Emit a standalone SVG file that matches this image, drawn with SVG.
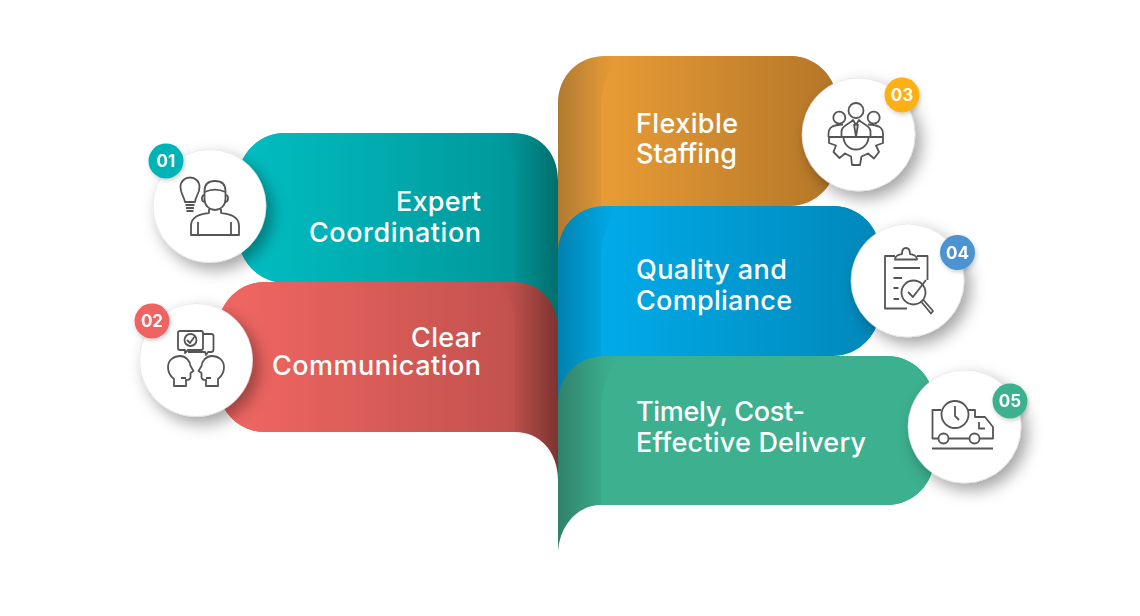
<svg xmlns="http://www.w3.org/2000/svg" width="1140" height="616" viewBox="0 0 1140 616">
<style>
.t{font-family:"Inter","Liberation Sans",sans-serif;font-size:27px;font-weight:500;fill:#fff;font-variant-ligatures:none}
.r{text-anchor:end}
.b{font-family:"Inter","Liberation Sans",sans-serif;font-size:17px;font-weight:700;fill:#fff;text-anchor:middle}
.c{fill:#fff;stroke:#dcdcdc;stroke-width:.6;filter:url(#sh)}
.bd{filter:url(#sb)}
.i{fill:none;stroke:#555;stroke-width:1.8;stroke-linejoin:round;stroke-linecap:butt}
</style>
<defs>
<filter id="sh" x="-40%" y="-40%" width="190%" height="190%"><feDropShadow dx="6" dy="7" stdDeviation="8" flood-color="#000" flood-opacity=".36"/></filter>
<filter id="sb" x="-40%" y="-40%" width="180%" height="180%"><feDropShadow dx="1" dy="2" stdDeviation="2" flood-color="#000" flood-opacity=".2"/></filter>
<linearGradient id="g1" gradientUnits="userSpaceOnUse" x1="240" x2="515" y1="0" y2="0"><stop offset="0" stop-color="#01bec2"/><stop offset="1" stop-color="#00989a"/></linearGradient>
<linearGradient id="g1t" gradientUnits="userSpaceOnUse" x1="240" x2="558" y1="0" y2="0"><stop offset="0" stop-color="#01bec2"/><stop offset=".818" stop-color="#009b9d"/><stop offset=".865" stop-color="#009293"/><stop offset="1" stop-color="#006f6d"/></linearGradient>
<linearGradient id="g2" gradientUnits="userSpaceOnUse" x1="225" x2="515" y1="0" y2="0"><stop offset="0" stop-color="#f16762"/><stop offset="1" stop-color="#c2514e"/></linearGradient>
<linearGradient id="g2t" gradientUnits="userSpaceOnUse" x1="225" x2="558" y1="0" y2="0"><stop offset="0" stop-color="#f16762"/><stop offset=".826" stop-color="#c4524f"/><stop offset=".871" stop-color="#b94e4a"/><stop offset="1" stop-color="#7d3431"/></linearGradient>
<linearGradient id="g3" gradientUnits="userSpaceOnUse" x1="601" x2="835" y1="0" y2="0"><stop offset="0" stop-color="#e99c35"/><stop offset="1" stop-color="#b47628"/></linearGradient>
<linearGradient id="g3t" gradientUnits="userSpaceOnUse" x1="558" x2="835" y1="0" y2="0"><stop offset="0" stop-color="#b07a31"/><stop offset=".155" stop-color="#dc9436"/><stop offset=".206" stop-color="#e69a34"/><stop offset="1" stop-color="#b47628"/></linearGradient>
<linearGradient id="g4" gradientUnits="userSpaceOnUse" x1="601" x2="878" y1="0" y2="0"><stop offset="0" stop-color="#00abe9"/><stop offset="1" stop-color="#0088ba"/></linearGradient>
<linearGradient id="g4t" gradientUnits="userSpaceOnUse" x1="558" x2="878" y1="0" y2="0"><stop offset="0" stop-color="#0081ae"/><stop offset=".134" stop-color="#00a2dd"/><stop offset=".178" stop-color="#00a9e7"/><stop offset="1" stop-color="#0088ba"/></linearGradient>
<linearGradient id="g5t" gradientUnits="userSpaceOnUse" x1="558" x2="620" y1="0" y2="0"><stop offset="0" stop-color="#2f826a"/><stop offset=".69" stop-color="#3aa888"/><stop offset="1" stop-color="#3cb08f"/></linearGradient>
</defs>

<g id="connectors"></g>

<g id="band-01">
<path fill="url(#g1t)" d="M285,133H513C540,133 558,153 558,180V342C558,314 540,294 515,294V282H285C259,282 238,261 238,235V180C238,154 259,133 285,133Z"/>
<path fill="url(#g1)" d="M285,133H498C509,145 515,160 515,178V283H285C259,283 238,261 238,235V180C238,154 259,133 285,133Z"/>
<text class="t r"><tspan x="481" y="211" textLength="85">Expert</tspan><tspan x="481" y="242" textLength="172">Coordination</tspan></text>
</g>
<g id="band-02">
<path fill="url(#g2t)" d="M265,282H513C540,282 558,302 558,330V480C558,452 540,432 515,432H265C239,432 218,411 218,385V329C218,303 239,282 265,282Z"/>
<path fill="url(#g2)" d="M265,282H498C509,294 515,309 515,327V432H265C239,432 218,411 218,385V329C218,303 239,282 265,282Z"/>
<text class="t r"><tspan x="481" y="347" textLength="70">Clear</tspan><tspan x="481" y="375" textLength="209">Communication</tspan></text>
</g>
<g id="band-03">
<path fill="url(#g3t)" d="M790,56C816,56 837,77 837,103V158C837,184 816,205 790,205H610V217C584,217 558,239 558,267V103C558,76 578,56 605,56Z"/>
<path fill="url(#g3)" d="M790,56C816,56 837,77 837,103V158C837,184 816,206 790,206H601V108C601,90 607,72 620,56Z"/>
<text class="t"><tspan x="636" y="133" textLength="102">Flexible</tspan><tspan x="636" y="163" textLength="101">Staffing</tspan></text>
</g>
<g id="band-04">
<path fill="url(#g4t)" d="M833,206C859,206 880,227 880,253V308C880,334 859,355 833,355H610V367C584,367 558,389 558,417V253C558,226 578,206 605,206Z"/>
<path fill="url(#g4)" d="M833,206C859,206 880,227 880,253V308C880,334 859,356 833,356H601V258C601,240 607,222 620,206Z"/>
<text class="t"><tspan x="636" y="279" textLength="151">Quality and</tspan><tspan x="636" y="310" textLength="156">Compliance</tspan></text>
</g>
<g id="band-05">
<path fill="url(#g5t)" d="M887,356C913,356 934,377 934,403V458C934,484 913,505 887,505H601C577,505 558,527 558,555V403C558,376 578,356 605,356Z"/>
<path fill="#3cb08f" d="M887,356C913,356 934,377 934,403V458C934,484 913,505 887,505H601V408C601,390 607,372 620,356Z"/>
<text class="t"><tspan x="636" y="421" textLength="169">Timely, Cost-</tspan><tspan x="636" y="452" textLength="230">Effective Delivery</tspan></text>
</g>

<g id="node-01">
<circle class="c" cx="209.500" cy="206" r="56.500"/>
<g class="i">
<path d="M185,202C184,196 180.500,194 180.500,187C180.500,181 185,177.500 190,177.500C195,177.500 199.500,181 199.500,187C199.500,194 195.500,196 195,202Z"/>
<path d="M185.500,205H194.500M186,208H194M186.500,211H193.500"/>
<path d="M204.500,191C204.500,184 209,181 215,181C221,181 225.500,184 225.500,191V199C225.500,205 221,210 215,210C209,210 204.500,205 204.500,199Z"/>
<path d="M204.500,192C211,189 219,189 225.500,192"/>
<path d="M204.500,195C201,195 201,202 205,202M225.500,195C229,195 229,202 225,202"/>
<path d="M209,209V213C205,214 191,214 191,226V235H239V226C239,214 225,214 221,213V209"/>
<path d="M198,222V235M231,222V235"/>
</g>
<g class="bd"><circle cx="166" cy="161" r="17.500" fill="#00b3b6"/><text class="b" x="166" y="167">01</text></g>
</g>

<g id="node-02">
<circle class="c" cx="196" cy="360" r="56.500"/>
<g class="i">
<path d="M180,331H201C202,331 203,332 203,333V348C203,349 202,350 201,350H188L185,353V350H180C179,350 178,349 178,348V333C178,332 179,331 180,331Z"/>
<circle cx="190.500" cy="340" r="6"/>
<path d="M187,340L190,343L195,336"/>
<path d="M203,334H211C212.500,334 213.500,335 213.500,336V349C213.500,351 212.500,352 211,352H208L206,355L205,352H188"/>
<path d="M174,386V379C170,376 168,372 168,367C168,360 174,356 180,356C186,356 190,361 190.500,366L193.500,371L190.500,373V377C190.500,379 189,380 186,380V386Z"/>
<path d="M218,386V379C222,376 224,372 224,367C224,360 218,356 212,356C206,356 202,361 201.500,366L198.500,371L201.500,373V377C201.500,379 203,380 206,380V386Z"/>
<path d="M181,378H186M211,378H206"/>
</g>
<g class="bd"><circle cx="152" cy="321" r="17.500" fill="#ef6461"/><text class="b" x="152" y="327">02</text></g>
</g>

<g id="node-03">
<circle class="c" cx="858.500" cy="134.500" r="56.500"/>
<g class="i">
<circle cx="856" cy="110.500" r="7.500"/>
<circle cx="839.300" cy="117.700" r="6"/>
<circle cx="873.700" cy="117.700" r="6"/>
<path d="M828.500,137H883"/>
<path d="M828.500,137V134C828.500,127 833,125 843,124.500M883,137V134C883,127 878,125 868,124.500"/>
<path d="M841.500,137V131C842,125 850,124 853,120L856,125L859,120C862,124 870,125 870.500,131V137"/>
<path d="M854,124L856,137L858,124"/>
<path d="M829,137V143L836,145.500L833.500,152L839.500,158L845,153.500L851,156.500L852,165H860L861.500,156.500L868,153.500L874,158.500L879,152L876,145.500L883,143V137"/>
<path d="M843.500,137A12.500,12.500 0 0 0 868.500,137"/>
</g>
<g class="bd"><circle cx="902" cy="95" r="17.500" fill="#fbb116"/><text class="b" x="902" y="101">03</text></g>
</g>

<g id="node-04">
<circle class="c" cx="907.500" cy="280.500" r="56.500"/>
<g class="i">
<path d="M895,256H885V308.500H907M917,256H927.500V280"/>
<path d="M895,259.500C895,255 899,255 902,254C902,250 903.500,248 906,248C908.500,248 910,250 910,254C913,255 917,255 917,259.500Z"/>
<path d="M893.500,268H920M893.500,278H902M893.500,288H898.500M893.500,299H899"/>
<circle cx="913.500" cy="292.500" r="12"/>
<path d="M908,292L913,297L926,280"/>
<path d="M921.500,302L931,313.500L933,311L923.500,300"/>
</g>
<g class="bd"><circle cx="957.500" cy="252.500" r="17.500" fill="#4c93d1"/><text class="b" x="957.500" y="258.500">04</text></g>
</g>

<g id="node-05">
<circle class="c" cx="964.500" cy="426.500" r="56.500"/>
<g class="i">
<path d="M941,410H932.500V438.500H938.500M948.500,438.500H969.500M979.500,438.500H993V427L985,417H975V410H968"/>
<circle cx="955" cy="414.500" r="13.500"/>
<path d="M955,406V416L959,420"/>
<circle cx="943.500" cy="438.500" r="5"/>
<circle cx="974.500" cy="438.500" r="5"/>
<path d="M979,422V428.500H985"/>
<path d="M932,448.500H993"/>
</g>
<g class="bd"><circle cx="1010" cy="401" r="17.500" fill="#3cb08f"/><text class="b" x="1010" y="407">05</text></g>
</g>
</svg>
